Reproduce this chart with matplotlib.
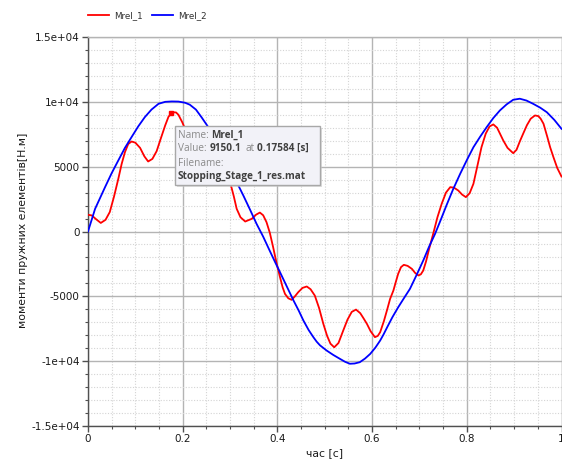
import numpy as np
import matplotlib
matplotlib.use("Agg")
import matplotlib.pyplot as plt
from matplotlib.ticker import MultipleLocator, FixedLocator, FixedFormatter
from matplotlib.patches import Rectangle

# Mrel_1 (red)
t_red = [0.000, 0.008, 0.017, 0.027, 0.037, 0.046, 0.055, 0.064, 0.071, 0.078,
         0.085, 0.092, 0.100, 0.110, 0.119, 0.127, 0.136, 0.145, 0.154, 0.163,
         0.170, 0.178, 0.186, 0.191, 0.199, 0.210, 0.220, 0.235, 0.250, 0.265,
         0.280, 0.290, 0.301, 0.308, 0.314, 0.322, 0.332, 0.346, 0.355, 0.363,
         0.370, 0.377, 0.384, 0.391, 0.398, 0.405, 0.411, 0.416, 0.423, 0.430,
         0.437, 0.444, 0.453, 0.462, 0.470, 0.479, 0.488, 0.497, 0.505, 0.512,
         0.520, 0.529, 0.539, 0.548, 0.557, 0.566, 0.575, 0.582, 0.589, 0.597,
         0.606, 0.612, 0.617, 0.625, 0.632, 0.638, 0.645, 0.650, 0.655, 0.661,
         0.667, 0.675, 0.684, 0.691, 0.698, 0.703, 0.708, 0.714, 0.720, 0.729,
         0.738, 0.747, 0.756, 0.765, 0.773, 0.782, 0.790, 0.798, 0.806, 0.814,
         0.822, 0.831, 0.840, 0.848, 0.856, 0.864, 0.870, 0.877, 0.886, 0.898,
         0.905, 0.912, 0.919, 0.927, 0.935, 0.944, 0.951, 0.956, 0.962, 0.970,
         0.976, 0.983, 0.991, 1.000]
v_red = [1290, 1240, 950, 660, 900, 1500, 2700, 4060, 5200, 6120,
         6750, 6940, 6850, 6450, 5800, 5400, 5600, 6200, 7200, 8180,
         8850, 9200, 9180, 9000, 8430, 7500, 6600, 5600, 5000, 4800,
         4600, 4300, 3680, 2700, 1750, 1100, 770, 980, 1300, 1460,
         1250, 720, -100, -1210, -2400, -3450, -4300, -4810, -5150, -5270,
         -5000, -4680, -4350, -4240, -4450, -4940, -5900, -7120, -8050, -8650,
         -8930, -8600, -7640, -6800, -6200, -6020, -6300, -6700, -7120, -7700,
         -8150, -8050, -7770, -6900, -6000, -5200, -4550, -3900, -3270, -2750,
         -2570, -2650, -2880, -3200, -3390, -3300, -3010, -2300, -1400, -180,
         1100, 2140, 3000, 3420, 3380, 3160, 2850, 2650, 2950, 3680,
         5000, 6500, 7550, 8100, 8260, 8000, 7550, 7020, 6450, 6040,
         6300, 6950, 7540, 8200, 8700, 8950, 8900, 8700, 8310, 7300,
         6500, 5730, 4900, 4240]

# Mrel_2 (blue)
t_blue = [0.000, 0.015, 0.036, 0.050, 0.064, 0.078, 0.092, 0.106, 0.120, 0.134,
          0.149, 0.163, 0.177, 0.191, 0.205, 0.215, 0.228, 0.240, 0.254, 0.270,
          0.290, 0.310, 0.328, 0.342, 0.356, 0.370, 0.384, 0.395, 0.405, 0.420,
          0.434, 0.445, 0.455, 0.466, 0.476, 0.483, 0.490, 0.504, 0.518, 0.532,
          0.543, 0.553, 0.563, 0.574, 0.585, 0.596, 0.607, 0.617, 0.624, 0.633,
          0.643, 0.655, 0.668, 0.680, 0.694, 0.708, 0.720, 0.733, 0.745, 0.757,
          0.771, 0.786, 0.800, 0.814, 0.828, 0.842, 0.856, 0.870, 0.884, 0.898,
          0.912, 0.926, 0.940, 0.955, 0.969, 0.985, 1.000]
v_blue = [0, 1750, 3420, 4500, 5480, 6450, 7280, 8100, 8820, 9400,
          9850, 10000, 10030, 10020, 9930, 9780, 9400, 8800, 8050, 6950,
          5500, 4100, 2780, 1700, 590, -400, -1500, -2350, -3100, -4250,
          -5320, -6100, -6870, -7600, -8150, -8500, -8780, -9180, -9520, -9820,
          -10050, -10200, -10180, -10080, -9800, -9440, -8950, -8410, -7950, -7300,
          -6600, -5850, -5100, -4420, -3350, -2240, -1200, -180, 900, 2010,
          3250, 4450, 5500, 6500, 7300, 8050, 8750, 9340, 9800, 10160,
          10240, 10100, 9850, 9550, 9200, 8600, 7920]

yticks = [-15000, -10000, -5000, 0, 5000, 10000, 15000]
ytick_labels = ["-1.5e+04", "-1e+04", "-5000", "0", "5000", "1e+04", "1.5e+04"]
xticks = [0, 0.2, 0.4, 0.6, 0.8, 1.0]
xtick_labels = ["0", "0.2", "0.4", "0.6", "0.8", "1"]

sel_t, sel_v = 0.17584, 9150.1

W, H = 562, 459
fig = plt.figure(figsize=(W / 100, H / 100), dpi=100)
ax = fig.add_axes([88 / W, 1 - 426 / H, (561.5 - 88) / W, (426 - 37) / H])

l1, = ax.plot(t_red, v_red, color="#ff0000", lw=1.3, label="Mrel_1", zorder=3)
l2, = ax.plot(t_blue, v_blue, color="#0000ff", lw=1.3, label="Mrel_2", zorder=3)
ax.plot([sel_t], [sel_v], "s", color="#ff0000", ms=3.5, zorder=4)

ax.set_xlim(0, 1)
ax.set_ylim(-15000, 15000)
ax.xaxis.set_major_locator(FixedLocator(xticks))
ax.xaxis.set_major_formatter(FixedFormatter(xtick_labels))
ax.yaxis.set_major_locator(FixedLocator(yticks))
ax.yaxis.set_major_formatter(FixedFormatter(ytick_labels))
ax.xaxis.set_minor_locator(MultipleLocator(0.05))
ax.yaxis.set_minor_locator(MultipleLocator(1000))

ax.grid(which="major", color="#b4b4b4", lw=1.0, ls="-")
ax.grid(which="minor", color="#d4d4d4", lw=0.8, ls=(0, (1, 1.5)))
ax.set_axisbelow(True)

for s in ["left", "bottom"]:
    ax.spines[s].set_color("#505050")
    ax.spines[s].set_linewidth(1.0)
for s in ["top", "right"]:
    ax.spines[s].set_color("#b4b4b4")
    ax.spines[s].set_linewidth(1.0)

ax.tick_params(which="major", direction="out", length=4, width=1, color="#505050",
               labelsize=7.5, labelcolor="#1a1a1a", pad=2)
ax.tick_params(which="minor", direction="out", length=2.5, width=0.8, color="#505050")
ax.tick_params(top=False, right=False, which="both")

fig.text(23 / W, 1 - 230 / H, "моменти пружних елементів[Н.м]", rotation=90,
         ha="center", va="center", fontsize=7.8, color="#1a1a1a")
fig.text(325 / W, 1 - 453 / H, "час [c]", ha="center", va="center",
         fontsize=7.8, color="#1a1a1a")

fig.legend(handles=[l1, l2], loc="center left", bbox_to_anchor=(88 / W, 1 - 16 / H),
           ncol=2, frameon=False, fontsize=6.3, borderpad=0, borderaxespad=0,
           handlelength=2.4, handletextpad=0.6, columnspacing=1.0,
           labelcolor="#303030")

# tooltip box
def fx(px):
    return px / W

def fy(py):
    return 1 - py / H

bx0, by0, bx1, by1 = 175, 126, 320, 185
fig.patches.append(Rectangle((fx(bx0 + 2), fy(by1 + 2)), fx(bx1 - bx0), (by1 - by0) / H,
                             transform=fig.transFigure, facecolor="#c8c8c8",
                             edgecolor="none", alpha=0.6, zorder=5))
fig.patches.append(Rectangle((fx(bx0), fy(by1)), fx(bx1 - bx0), (by1 - by0) / H,
                             transform=fig.transFigure, facecolor="#f2f2f8",
                             edgecolor="#a8a8a8", lw=1.0, zorder=6))

tip_font = dict(fontsize=7.2, family="Open Sans", va="center", ha="left", zorder=7)
gray = "#8a8a8a"
dark = "#404040"
fig.text(fx(178), fy(135), "Name:", color=gray, **tip_font)
fig.text(fx(211.5), fy(135), "Mrel_1", color=dark, fontweight="bold", **tip_font)
fig.text(fx(178), fy(148.5), "Value:", color=gray, **tip_font)
fig.text(fx(209.3), fy(148.5), "9150.1", color=dark, fontweight="bold", **tip_font)
fig.text(fx(245), fy(148.5), "at", color=gray, **tip_font)
fig.text(fx(257.3), fy(148.5), "0.17584 [s]", color=dark, fontweight="bold", **tip_font)
fig.text(fx(178), fy(163), "Filename:", color=gray, **tip_font)
fig.text(fx(178), fy(177), "Stopping_Stage_1_res.mat", color=dark, fontweight="bold",
         **tip_font)

fig.savefig("out.png", dpi=100)
